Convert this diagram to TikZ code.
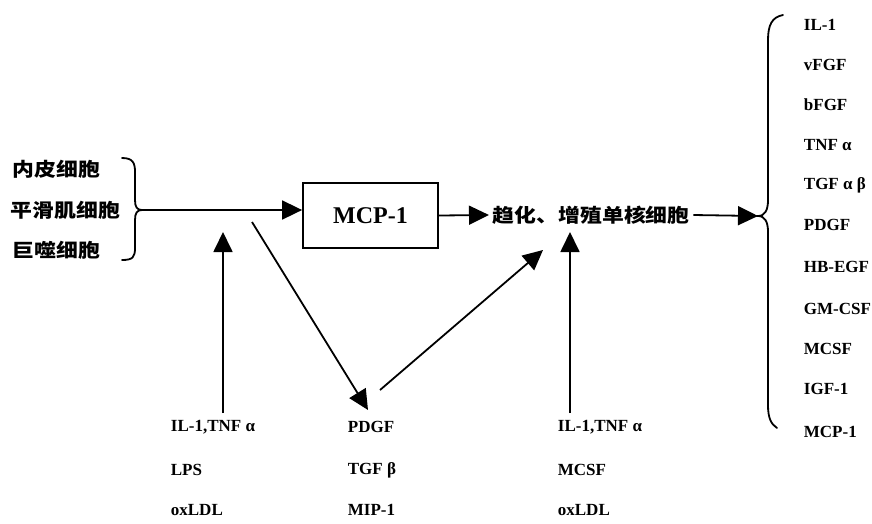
\documentclass[tikz,border=0pt]{standalone}
\usepackage{fontspec}
\setmainfont{Liberation Serif}
\newfontfamily\cjk[FakeStretch=1.15]{Noto Sans CJK SC}
\usetikzlibrary{arrows.meta}
\begin{document}
\begin{tikzpicture}[x=1pt,y=-1pt,line width=1.8pt,
  arr/.style={-{Triangle[length=20pt,width=19pt]}},
  cn/.style={font=\cjk\bfseries\fontsize{19}{19}\selectfont,inner sep=0pt,anchor=west},
  lab/.style={font=\bfseries\fontsize{17}{17}\selectfont,inner sep=0pt,anchor=west},
  brace/.style={line width=1.8pt,line cap=round}]
\useasboundingbox (0,0) rectangle (872,523);
% left cell labels
\node[cn] (c1) at (12,169) {内皮细胞};
\node[cn] (c2) at (10,210) {平滑肌细胞};
\node[cn] (c3) at (12,250) {巨噬细胞};
% left brace
\draw[brace] (122,158) .. controls (133,158) and (135,163) .. (135,172) -- (135,200)
  .. controls (135,207) and (137,210) .. (142,210)
  .. controls (137,210) and (135,213) .. (135,220) -- (135,248)
  .. controls (135,257) and (133,260) .. (122,260);
\coordinate (lbtip) at (142,210);
% MCP-1 box
\node[draw,line width=1.8pt,minimum width=135pt,minimum height=65pt,
  font=\bfseries\fontsize{24}{24}\selectfont] (mcp) at (370.5,215.5) {MCP-1};
\draw[arr] (lbtip) -- (lbtip -| mcp.west);
% chemotaxis text
\node[cn,inner sep=3pt] (chemo) at (489,215) {趋化、增殖单核细胞};
\draw[arr] (mcp.east) -- (chemo.west);
% right brace
\draw[brace] (783,15) .. controls (772,17) and (768,25) .. (768,40) -- (768,200)
  .. controls (768,210) and (765,216) .. (758,216)
  .. controls (765,216) and (768,222) .. (768,232) -- (768,405)
  .. controls (768,418) and (771,424) .. (777,428);
\coordinate (rbtip) at (758,216);
\draw[arr] (chemo.east) -- (rbtip);
% right labels
\node[lab] (r1) at (803,25) {IL-1};
\node[lab] (r2) at (803,65) {vFGF};
\node[lab] (r3) at (803,105) {bFGF};
\node[lab] (r4) at (803,145) {TNF α};
\node[lab] (r5) at (803,185) {TGF α β};
\node[lab] (r6) at (803,225) {PDGF};
\node[lab] (r7) at (803,267) {HB-EGF};
\node[lab] (r8) at (803,309) {GM-CSF};
\node[lab] (r9) at (803,349) {MCSF};
\node[lab] (r10) at (803,389) {IGF-1};
\node[lab] (r11) at (803,432) {MCP-1};
% bottom labels
\node[lab] (a1) at (170,427) {IL-1,TNF α};
\node[lab] (a2) at (170,470) {LPS};
\node[lab] (a3) at (170,510) {oxLDL};
\node[lab] (p1) at (347,427) {PDGF};
\node[lab] (p2) at (347,470) {TGF β};
\node[lab] (p3) at (347,510) {MIP-1};
\node[lab] (m1) at (557,427) {IL-1,TNF α};
\node[lab] (m2) at (557,470) {MCSF};
\node[lab] (m3) at (557,510) {oxLDL};
% vertical arrows
\coordinate (v1top) at (223,232);
\coordinate (v2top) at (570,232);
\draw[arr] (a1.north -| v1top) ++(0,-6) -- (v1top);
\draw[arr] (m1.north -| v2top) ++(0,-6) -- (v2top);
% diagonal arrows
\coordinate (d1s) at (252,222);
\coordinate (d1e) at (368,410);
\coordinate (d2s) at (380,390);
\coordinate (d2e) at (543,250);
\draw[arr] (d1s) -- (d1e);
\draw[arr] (d2s) -- (d2e);
\end{tikzpicture}
\end{document}
